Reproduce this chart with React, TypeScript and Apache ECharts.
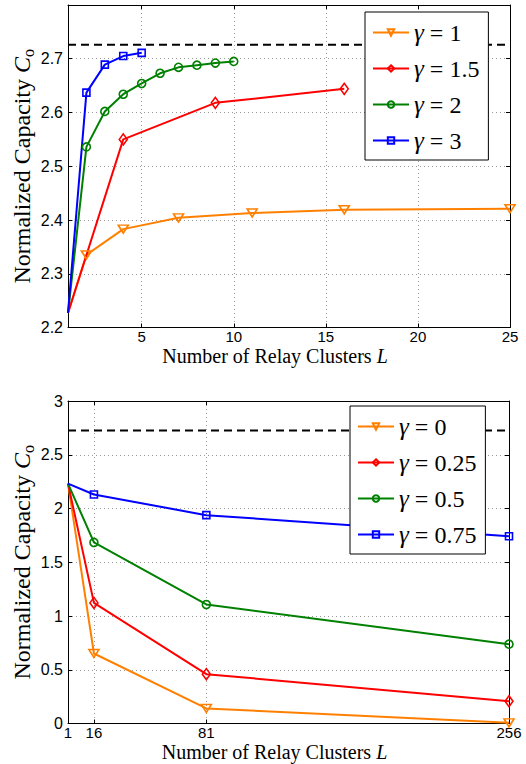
import React, { useEffect, useRef } from 'react';
import * as echarts from 'echarts';

// ---------- data ----------
const topL1 = [1, 2, 4, 7, 11, 16, 25];
const topC1 = [2.227, 2.335, 2.383, 2.404, 2.413, 2.419, 2.421];
const topL15 = [1, 4, 9, 16];
const topC15 = [2.227, 2.55, 2.618, 2.644];
const topL2 = [1, 2, 3, 4, 5, 6, 7, 8, 9, 10];
const topC2 = [2.227, 2.536, 2.602, 2.634, 2.654, 2.673, 2.684, 2.688, 2.692, 2.695];
const topL3 = [1, 2, 3, 4, 5];
const topC3 = [2.227, 2.637, 2.689, 2.705, 2.711];
const topNames = ['γ=1', 'γ=1.5', 'γ=2', 'γ=3'];

const botL = [1, 16, 81, 256];
const botC0 = [2.232, 0.651, 0.14, 0.006];
const botC025 = [2.232, 1.122, 0.459, 0.207];
const botC05 = [2.232, 1.684, 1.107, 0.738];
const botC075 = [2.232, 2.13, 1.938, 1.742];
const botNames = ['γ=0', 'γ=0.25', 'γ=0.5', 'γ=0.75'];

const bound = 2.726;
const topXRange = [1, 25];
const botXRange = [1, 256];
const botXTicks = [1, 16, 81, 256];

// ---------- styles ----------
const COLORS = ['#FF8000', '#FF0000', '#008000', '#0000FF'];
const SYMBOLS = ['triangle', 'diamond', 'circle', 'rect'];
const SIZES: any[] = [[10, 8], [8, 11], 8, 7];
const ROT = [180, 0, 0, 0];

const tickFont = { fontFamily: 'Liberation Sans', fontSize: 16, color: '#000' };
const xTickFont = { fontFamily: 'Liberation Sans', fontSize: 15, color: '#000', lineHeight: 15 };
function nameFont(fs: number, lh: number) {
  const sub = Math.round(fs * 0.68);
  return {
    fontFamily: 'Liberation Serif',
    fontSize: fs,
    color: '#000',
    lineHeight: lh,
    rich: {
      i: { fontFamily: 'Liberation Serif', fontStyle: 'italic', fontSize: fs, color: '#000', lineHeight: lh },
      s: { fontFamily: 'Liberation Serif', fontSize: sub, color: '#000', lineHeight: sub, verticalAlign: 'bottom' },
    },
  };
}
const gridLine = { show: true, lineStyle: { color: '#999', width: 1, type: [1, 3] } };
const axisLine = { show: true, onZero: false, lineStyle: { color: '#000', width: 1 } };
const tickIn = { show: true, inside: true, length: 4, lineStyle: { color: '#000', width: 1 } };

function mkSeries(name: string, xs: number[], ys: number[], k: number, xi: number, yi: number) {
  return {
    name,
    type: 'line',
    xAxisIndex: xi,
    yAxisIndex: yi,
    clip: false,
    z: 3,
    data: xs.map((x, i) => (i === 0 ? { value: [x, ys[i]], symbol: 'none' } : [x, ys[i]])),
    symbol: SYMBOLS[k],
    symbolSize: SIZES[k],
    symbolRotate: ROT[k],
    lineStyle: { color: COLORS[k], width: 2 },
    itemStyle: { color: 'rgba(255,255,255,0)', borderColor: COLORS[k], borderWidth: 1.6 },
    emphasis: { disabled: true },
  };
}

function mkLegend(names: string[], left: number, top: number) {
  return {
    orient: 'vertical',
    left,
    top,
    data: names,
    padding: [8, 9, 7, 7],
    itemGap: 11,
    itemWidth: 36,
    itemHeight: 8,
    itemTextGap: 4,
    backgroundColor: '#fff',
    borderColor: '#000',
    borderWidth: 1,
    borderRadius: 0,
    selectedMode: false,
    formatter: (n: string) => `{g|γ}{e|=}{n|${n.split('=')[1]}}`,
    textStyle: {
      fontFamily: 'Liberation Serif',
      fontSize: 24,
      color: '#000',
      lineHeight: 24,
      rich: {
        g: { fontFamily: 'Liberation Serif', fontStyle: 'italic', fontSize: 25, color: '#000', lineHeight: 24 },
        e: { fontFamily: 'Liberation Serif', fontSize: 24, color: '#000', lineHeight: 24, padding: [0, 6, 0, 6] },
        n: { fontFamily: 'Liberation Serif', fontSize: 24, color: '#000', lineHeight: 24 },
      },
    },
  };
}

export default function App() {
  const ref = useRef<HTMLDivElement>(null);
  useEffect(() => {
    if (!ref.current) return;
    const chart = echarts.init(ref.current, null, { renderer: 'svg' });
    const yName = 'Normalized Capacity {i|C}{s|o}';
    const xName = 'Number of Relay Clusters {i|L}';
    const xNameStyle = { ...nameFont(20, 20), padding: [0, 28, 0, 0] };
    const yNameStyle = nameFont(24, 28);
    const option: any = {
      animation: false,
      backgroundColor: '#fff',
      grid: [
        { left: 68, right: 16, top: 5, height: 322.5, containLabel: false, outerBoundsMode: 'none' },
        { left: 68, right: 17, top: 401, height: 322.5, containLabel: false, outerBoundsMode: 'none' },
      ],
      xAxis: [
        {
          gridIndex: 0, type: 'value', position: 'bottom', min: topXRange[0], max: topXRange[1], splitNumber: 5,
          axisLine, axisTick: tickIn, splitLine: gridLine,
          axisLabel: { ...xTickFont, margin: 1.5, showMinLabel: false },
          name: xName, nameLocation: 'middle', nameGap: 18.75, nameMoveOverlap: false, nameTextStyle: xNameStyle,
        },
        {
          gridIndex: 0, type: 'value', position: 'top', min: topXRange[0], max: topXRange[1], splitNumber: 5,
          axisLine, axisTick: tickIn, splitLine: { show: false }, axisLabel: { show: false },
        },
        {
          gridIndex: 1, type: 'value', position: 'bottom', min: botXRange[0], max: botXRange[1],
          axisLine,
          axisTick: { ...tickIn, customValues: botXTicks },
          splitLine: { ...gridLine, customValues: botXTicks },
          axisLabel: { ...xTickFont, margin: 1.5, customValues: botXTicks },
          name: xName, nameLocation: 'middle', nameGap: 18.75, nameMoveOverlap: false, nameTextStyle: xNameStyle,
        },
        {
          gridIndex: 1, type: 'value', position: 'top', min: botXRange[0], max: botXRange[1],
          axisLine, axisTick: { ...tickIn, customValues: botXTicks }, splitLine: { show: false }, axisLabel: { show: false },
        },
      ],
      yAxis: [
        {
          gridIndex: 0, type: 'value', position: 'left', min: 2.2, max: 2.8, interval: 0.1,
          axisLine, axisTick: tickIn, splitLine: gridLine,
          axisLabel: { ...tickFont, margin: 5, showMaxLabel: false, formatter: (v: number) => v.toFixed(1) },
          name: yName, nameLocation: 'middle', nameGap: 32, nameMoveOverlap: false, nameTextStyle: yNameStyle,
        },
        {
          gridIndex: 0, type: 'value', position: 'right', min: 2.2, max: 2.8, interval: 0.1,
          axisLine, axisTick: tickIn, splitLine: { show: false }, axisLabel: { show: false },
        },
        {
          gridIndex: 1, type: 'value', position: 'left', min: 0, max: 3, interval: 0.5,
          axisLine, axisTick: tickIn, splitLine: gridLine,
          axisLabel: { ...tickFont, margin: 5 },
          name: yName, nameLocation: 'middle', nameGap: 32, nameMoveOverlap: false, nameTextStyle: yNameStyle,
        },
        {
          gridIndex: 1, type: 'value', position: 'right', min: 0, max: 3, interval: 0.5,
          axisLine, axisTick: tickIn, splitLine: { show: false }, axisLabel: { show: false },
        },
      ],
      legend: [mkLegend(topNames, 365, 12), mkLegend(botNames, 350, 406)],
      series: [
        {
          type: 'line', xAxisIndex: 0, yAxisIndex: 0, symbol: 'none', silent: true, z: 2,
          data: [[topXRange[0], bound], [topXRange[1], bound]],
          lineStyle: { color: '#000', width: 2, type: [8, 5] },
        },
        {
          type: 'line', xAxisIndex: 2, yAxisIndex: 2, symbol: 'none', silent: true, z: 2,
          data: [[botXRange[0], bound], [botXRange[1], bound]],
          lineStyle: { color: '#000', width: 2, type: [8, 5] },
        },
        mkSeries(topNames[0], topL1, topC1, 0, 0, 0),
        mkSeries(topNames[1], topL15, topC15, 1, 0, 0),
        mkSeries(topNames[2], topL2, topC2, 2, 0, 0),
        mkSeries(topNames[3], topL3, topC3, 3, 0, 0),
        mkSeries(botNames[0], botL, botC0, 0, 2, 2),
        mkSeries(botNames[1], botL, botC025, 1, 2, 2),
        mkSeries(botNames[2], botL, botC05, 2, 2, 2),
        mkSeries(botNames[3], botL, botC075, 3, 2, 2),
      ],
    };
    chart.setOption(option);
    return () => chart.dispose();
  }, []);
  return (
    <div
      ref={ref}
      style={{ position: 'absolute', left: 0, top: 0, width: 526, height: 764, background: '#fff' }}
    />
  );
}
